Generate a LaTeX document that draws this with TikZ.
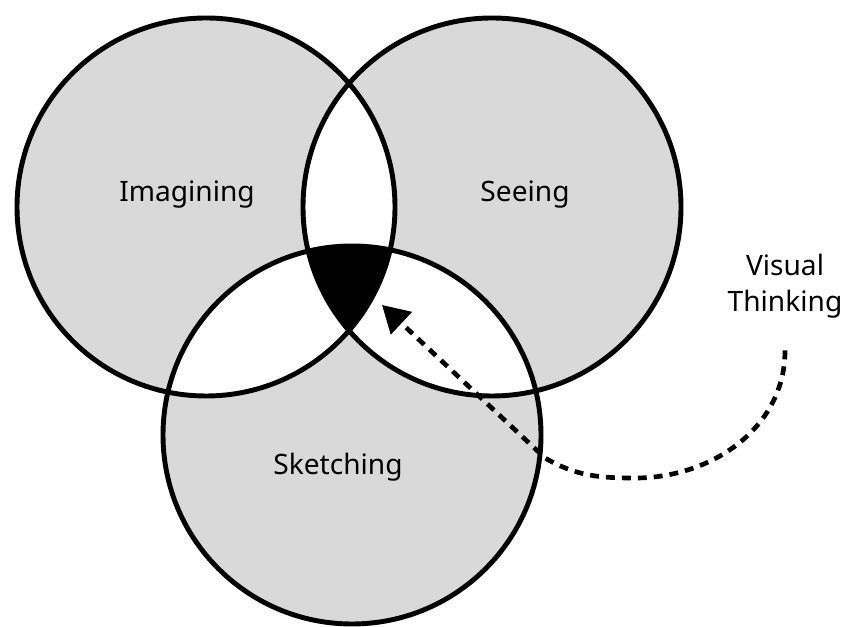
\documentclass[tikz,border=0pt]{standalone}
\usepackage{fontspec}
\setmainfont{Noto Sans}
\usepackage{xcolor}
\usepackage{tikz}
\usetikzlibrary{arrows.meta,positioning,calc}
\definecolor{venngrey}{RGB}{217,217,217}

\begin{document}
\begin{tikzpicture}[x=0.03cm, y=0.03cm]
    \useasboundingbox (0,0) rectangle (853,627);
    \def\rad{189}
    \coordinate (imag) at (206,420);
    \coordinate (seei) at (492,420);
    \coordinate (sket) at (352,192);
    % Single regions
    \fill[venngrey] (imag) circle (\rad);
    \fill[venngrey] (seei) circle (\rad);
    \fill[venngrey] (sket) circle (\rad);
    % Pairwise overlaps
    \begin{scope}
        \clip (imag) circle (\rad);
        \fill[white] (seei) circle (\rad);
        \fill[white] (sket) circle (\rad);
    \end{scope}
    \begin{scope}
        \clip (seei) circle (\rad);
        \fill[white] (sket) circle (\rad);
    \end{scope}
    % Centre: all three
    \begin{scope}
        \clip (imag) circle (\rad);
        \clip (seei) circle (\rad);
        \fill[black] (sket) circle (\rad);
    \end{scope}
    % Outlines
    \draw[line width=4.2pt] (imag) circle (\rad);
    \draw[line width=4.2pt] (seei) circle (\rad);
    \draw[line width=4.2pt] (sket) circle (\rad);
    % Labels
    \node[font=\fontsize{24}{31}\selectfont] (limag) at (187,432) {Imagining};
    \node[font=\fontsize{24}{31}\selectfont] (lseei) at (525,432) {Seeing};
    \node[font=\fontsize{24}{31}\selectfont] (lsket) at (338,160) {Sketching};
    \node[font=\fontsize{24}{31}\selectfont, align=center] (vthink) at (785,341) {Visual\\Thinking};
    % Dashed arrow to the centre
    \coordinate (vstart) at ([yshift=-24pt]vthink.south);
    \coordinate (vtip) at (382,322);
    \draw[-{Triangle[length=8mm, width=9mm]}, line width=4pt, dash pattern=on 7.6pt off 6pt]
        (vstart) to[out=-90, in=0] (635,149)
        to[out=180, in=-30] (545,169) -- (vtip);
\end{tikzpicture}
\end{document}
